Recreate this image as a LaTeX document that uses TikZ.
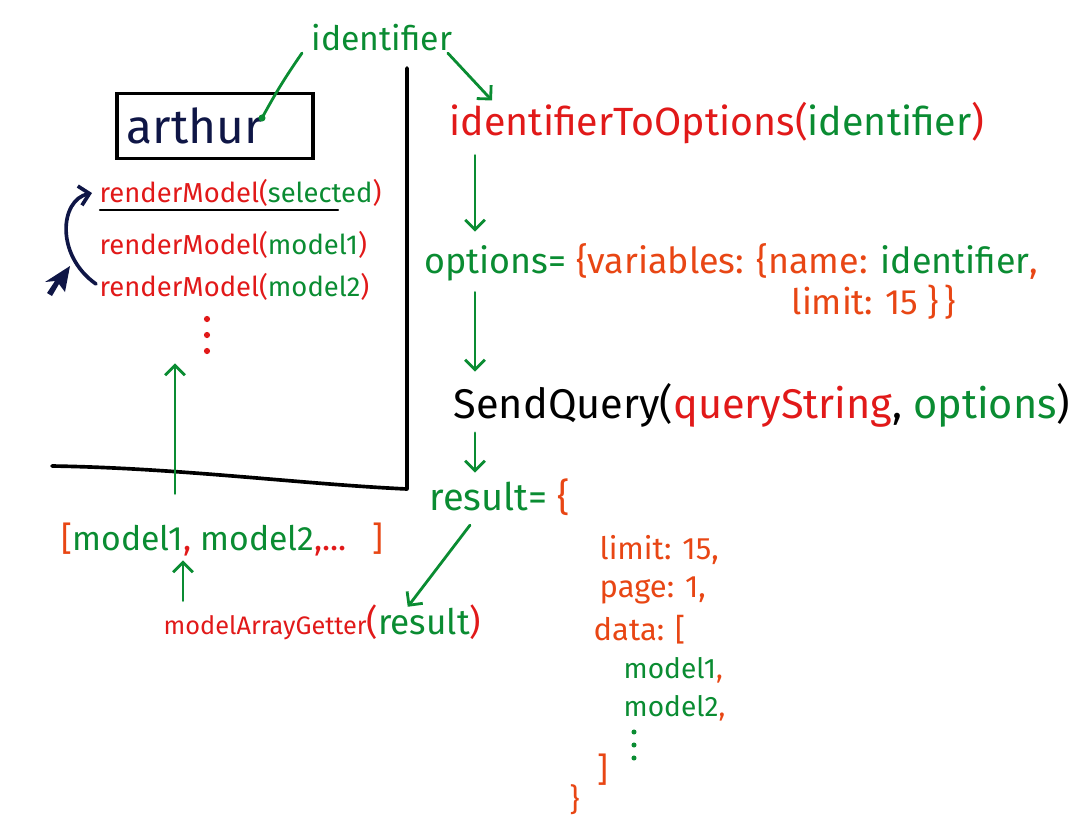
\documentclass[tikz,border=0pt]{standalone}
\usepackage{fontspec}
\setmainfont{Fira Sans}
\usetikzlibrary{arrows.meta,calc}

\definecolor{pengreen}{RGB}{10,140,50}
\definecolor{penred}{RGB}{225,25,25}
\definecolor{penorange}{RGB}{232,70,20}
\definecolor{pennavy}{RGB}{15,22,70}

\newcommand{\gr}[1]{\textcolor{pengreen}{#1}}
\newcommand{\rd}[1]{\textcolor{penred}{#1}}
\newcommand{\og}[1]{\textcolor{penorange}{#1}}
\newcommand{\fs}[1]{\fontsize{#1}{#1}\selectfont}

\tikzset{
  pen/.style={line width=2pt, line cap=round, line join=round},
  garrow/.style={pen, draw=pengreen, -{Straight Barb[length=7pt,width=14pt,line width=2pt]}},
  lbl/.style={anchor=west, inner sep=1pt},
}

\begin{document}
\begin{tikzpicture}[x=0.025cm, y=-0.025cm]
\useasboundingbox (0,0) rectangle (1076,825);

% frame of the page
\draw[pen, line width=2.6pt] (52,466) .. controls (180,468) and (300,484) .. (407,489) -- (407,68);

% left side
\node[lbl, font=\fs{24}, text=pengreen] (ident) at (310,38) {identifier};
\node[draw, line width=2.5pt, inner xsep=0.25cm, text width=4.4cm, minimum height=1.625cm,
      align=left, font=\fs{34}, text=pennavy] (arthur) at (215,126) {arthur};
\coordinate (inkdot) at (262,118);

\node[lbl, font=\fs{19.5}] (rsel) at (98,193) {\rd{renderModel(}\gr{selected}\rd{)}};
\node[lbl, font=\fs{19.5}] (rm1) at (98,245) {\rd{renderModel(}\gr{model1}\rd{)}};
\node[lbl, font=\fs{19.5}] (rm2) at (98,287) {\rd{renderModel(}\gr{model2}\rd{)}};
\node[inner sep=0pt, minimum height=28pt, minimum width=6pt] (vdots) at (207,335) {};
\foreach \dy in {-16,0,16}
  \fill[penred] ($(vdots.center)+(0,\dy)$) circle (2.2pt);

\node[lbl, font=\fs{24}] (models) at (60,540)
  {\og{[}\gr{model1}\rd{,} \gr{model2}\rd{,...}\hspace{18pt}\og{]}};
\node[lbl] (getter) at (162,622)
  {{\fs{18}\rd{modelArrayGetter}}{\fs{25}\rd{(}\gr{result}\rd{)}}};

\coordinate (upcol) at (175,0);
\coordinate (getcol) at (183,0);
\coordinate (cursor) at (70,266);

% right side
\node[lbl, font=\fs{28}] (idopt) at (448,123) {\rd{identifierToOptions(}\gr{identifier}\rd{)}};
\node[lbl, font=\fs{25.5}] (options) at (423,262)
  {\gr{options=} \og{\{variables: \{name:} \gr{identifier}\og{,}};
\node[lbl, font=\fs{25}, text=penorange] (limit) at (790,302) {limit: 15 \}\,\}};
\node[lbl, font=\fs{29.5}] (query) at (452,405) {SendQuery(\rd{queryString}, \gr{options})};
\node[lbl, font=\fs{27}] (result) at (428,497) {\gr{result=} \og{\{}};

\node[lbl, font=\fs{22}, text=penorange] (rlimit) at (598,550) {limit: 15,};
\node[lbl, font=\fs{22}, text=penorange] (rpage) at (598,590) {page: 1,};
\node[lbl, font=\fs{22}, text=penorange] (rdata) at (592,630) {data: [};
\node[lbl, font=\fs{20}] (rm1b) at (622,670) {\gr{model1}\og{,}};
\node[lbl, font=\fs{20}] (rm2b) at (622,708) {\gr{model2}\og{,}};
\node[inner sep=0pt, minimum height=24pt, minimum width=4pt] (rdots) at (634,745) {};
\foreach \dy in {-13,0,13}
  \fill[pengreen] ($(rdots.center)+(0,\dy)$) circle (1.8pt);
\node[lbl, font=\fs{24}, text=penorange] (rclose) at (596,770) {]};
\node[lbl, font=\fs{22}, text=penorange] (rend) at (568,800) {\}};

\coordinate (downcol) at (475,0);

% connectors
\draw[pen, draw=pengreen] ($(ident.south west)+(-8,0)$) to[bend right=3] (inkdot);
\fill[pengreen] (inkdot) circle (2.5pt);
\draw[garrow] ($(ident.south east)+(-6,0)$) -- ($(idopt.north west)+(44,0)$);
\draw[pen, line width=1.6pt] ($(rsel.south west)+(2,2)$) -- ($(rsel.south east)+(-45,2)$);
\draw[pen, line width=2.6pt, draw=pennavy, -{Straight Barb[length=7pt,width=14pt,line width=2.6pt]}]
  ($(rm2.west)+(-2,-3)$) .. controls (55,255) and (60,200) .. ($(rsel.west)+(-6,0)$);
\fill[pennavy, shift={(cursor)}] (0,0) -- (-5,26) -- (-11,18) -- (-18,30) -- (-23,27) -- (-15,15) -- (-25,16) -- cycle;

\draw[garrow, shorten <=20pt, shorten >=6pt] (models.north -| upcol) -- (vdots.south -| upcol);
\draw[garrow, shorten <=1.5pt, shorten >=1.5pt] (getter.north -| getcol) -- (models.south -| getcol);
\draw[garrow] ($(result.south west)+(42,8)$) -- ($(getter.north east)+(-75,4)$);

\draw[garrow, shorten <=7pt, shorten >=7pt] (idopt.south -| downcol) -- (options.north -| downcol);
\draw[garrow, shorten <=7pt, shorten >=7pt] (options.south -| downcol) -- (query.north -| downcol);
\draw[garrow, shorten <=3pt, shorten >=3pt] (query.south -| downcol) -- (result.north -| downcol);
\end{tikzpicture}
\end{document}
